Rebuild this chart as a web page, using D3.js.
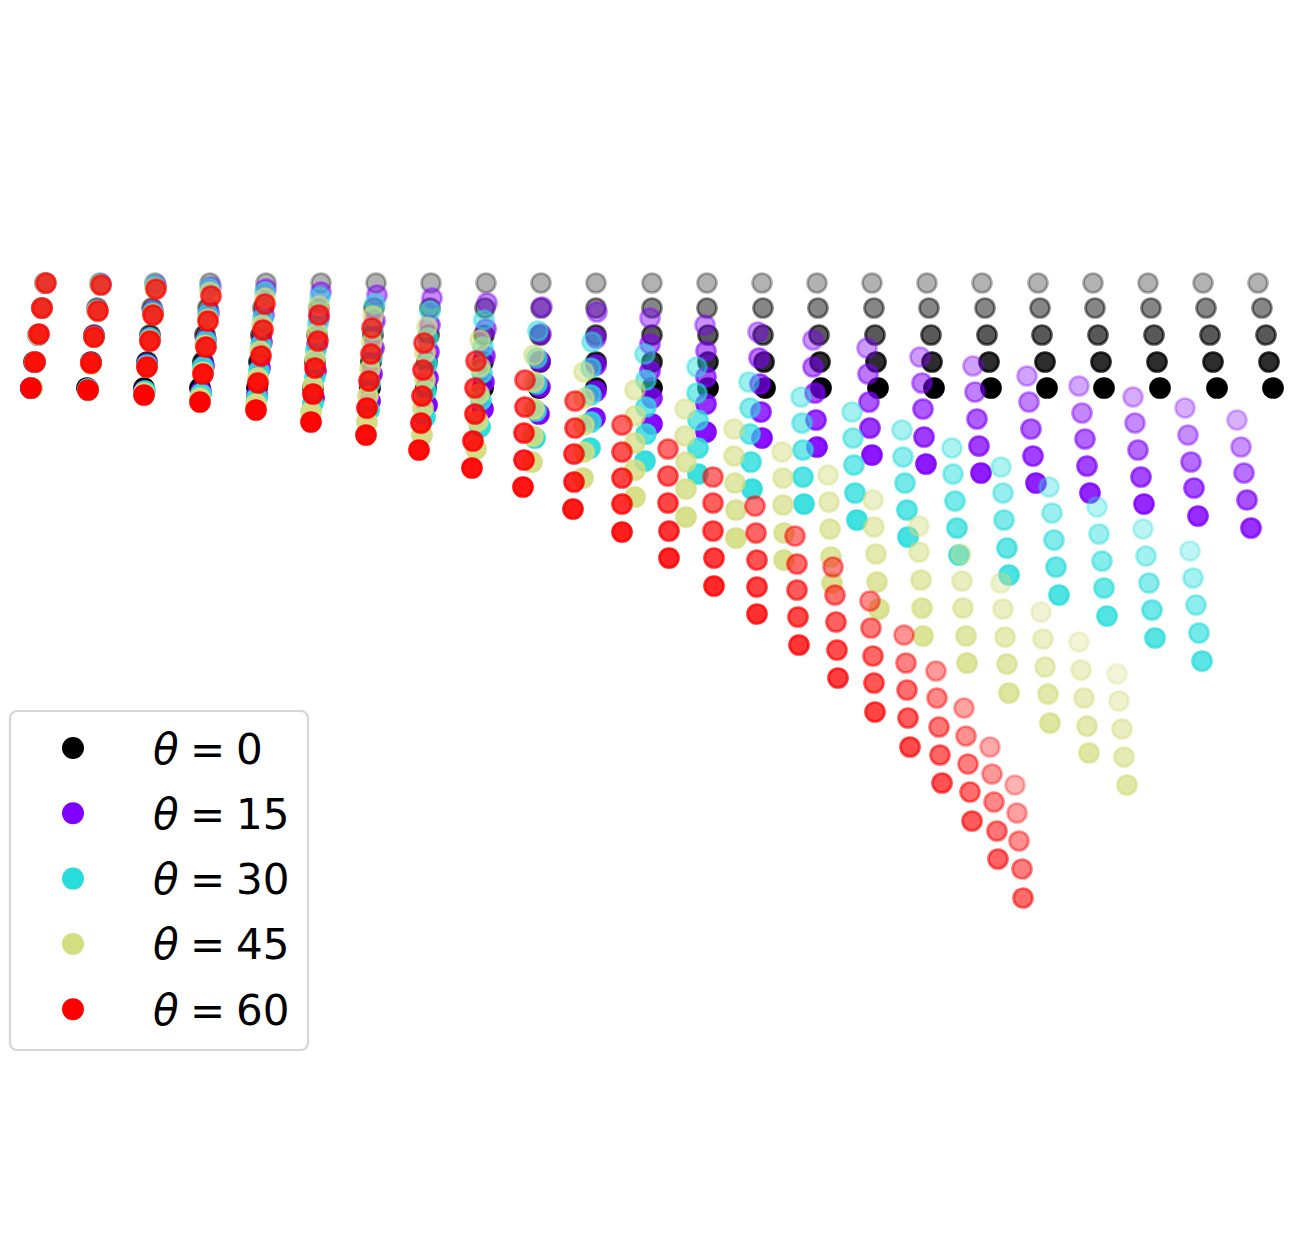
<!DOCTYPE html>
<html>
<head>
<meta charset="utf-8">
<script src="https://cdn.jsdelivr.net/npm/d3@7"></script>
<style>
  body { margin: 0; background: #fff; }
  text { font-family: "DejaVu Sans", sans-serif; }
</style>
</head>
<body>
<div id="viz"></div>
<script>
// Angles of the five series
const thetas = [0, 15, 30, 45, 60];

// Each array: 23 columns along the beam, each column = 5 points from back row to front row
// (projected x, projected drop)
const xTheta0 = [
  [0.0, -0.3, -0.7, -1.1, -1.4], [5.5, 5.2, 4.9, 4.6, 4.2], [11.0, 10.7, 10.5, 10.2, 9.9],
  [16.5, 16.3, 16.0, 15.8, 15.5], [22.1, 21.8, 21.6, 21.4, 21.2], [27.6, 27.4, 27.2, 27.0, 26.8],
  [33.1, 32.9, 32.8, 32.6, 32.5], [38.6, 38.5, 38.4, 38.2, 38.1], [44.1, 44.0, 43.9, 43.8, 43.8],
  [49.6, 49.6, 49.5, 49.5, 49.4], [55.1, 55.1, 55.1, 55.1, 55.1], [60.7, 60.7, 60.7, 60.7, 60.7],
  [66.2, 66.2, 66.3, 66.3, 66.3], [71.7, 71.8, 71.8, 71.9, 72.0], [77.2, 77.3, 77.4, 77.5, 77.6],
  [82.7, 82.9, 83.0, 83.1, 83.3], [88.2, 88.4, 88.6, 88.7, 88.9], [93.7, 94.0, 94.2, 94.4, 94.6],
  [99.3, 99.5, 99.7, 100.0, 100.2], [104.8, 105.0, 105.3, 105.6, 105.9], [110.3, 110.6, 110.9, 111.2, 111.5],
  [115.8, 116.1, 116.5, 116.8, 117.2], [121.3, 121.7, 122.1, 122.4, 122.8]
];
const yTheta0 = [
  [0.0, 2.5, 5.2, 7.9, 10.5], [0.0, 2.5, 5.2, 7.9, 10.5], [0.0, 2.5, 5.2, 7.9, 10.5],
  [0.0, 2.5, 5.2, 7.9, 10.5], [0.0, 2.5, 5.2, 7.9, 10.5], [0.0, 2.5, 5.2, 7.9, 10.5],
  [0.0, 2.5, 5.2, 7.9, 10.5], [0.0, 2.5, 5.2, 7.9, 10.5], [0.0, 2.5, 5.2, 7.9, 10.5],
  [0.0, 2.5, 5.2, 7.9, 10.5], [0.0, 2.5, 5.2, 7.9, 10.5], [0.0, 2.5, 5.2, 7.9, 10.5],
  [0.0, 2.5, 5.2, 7.9, 10.5], [0.0, 2.5, 5.2, 7.9, 10.5], [0.0, 2.5, 5.2, 7.9, 10.5],
  [0.0, 2.5, 5.2, 7.9, 10.5], [0.0, 2.5, 5.2, 7.9, 10.5], [0.0, 2.5, 5.2, 7.9, 10.5],
  [0.0, 2.5, 5.2, 7.9, 10.5], [0.0, 2.5, 5.2, 7.9, 10.5], [0.0, 2.5, 5.2, 7.9, 10.5],
  [0.0, 2.5, 5.2, 7.9, 10.5], [0.0, 2.5, 5.2, 7.9, 10.5]
];

const xTheta15 = [
  [0.0, -0.3, -0.7, -1.0, -1.4], [5.6, 5.2, 4.9, 4.6, 4.3], [11.1, 10.8, 10.5, 10.2, 9.9],
  [16.6, 16.4, 16.1, 15.9, 15.6], [22.1, 21.9, 21.7, 21.5, 21.2], [27.6, 27.4, 27.2, 27.1, 26.9],
  [33.2, 33.0, 32.9, 32.7, 32.5], [38.7, 38.5, 38.4, 38.3, 38.2], [44.2, 44.1, 44.0, 43.9, 43.8],
  [49.7, 49.6, 49.5, 49.5, 49.4], [55.2, 55.1, 55.1, 55.1, 55.0], [60.5, 60.5, 60.5, 60.7, 60.7],
  [66.0, 66.1, 66.1, 66.1, 66.1], [71.3, 71.4, 71.5, 71.6, 71.7], [76.8, 76.8, 77.0, 77.1, 77.2],
  [82.2, 82.3, 82.4, 82.5, 82.7], [87.5, 87.7, 87.8, 87.9, 88.1], [92.8, 93.0, 93.2, 93.4, 93.6],
  [98.2, 98.4, 98.6, 98.8, 99.1], [103.4, 103.7, 104.0, 104.2, 104.5], [108.8, 109.0, 109.3, 109.6, 109.9],
  [114.0, 114.3, 114.6, 114.9, 115.3], [119.2, 119.6, 119.9, 120.2, 120.6]
];
const yTheta15 = [
  [0.0, 2.5, 5.2, 7.9, 10.5], [0.1, 2.7, 5.3, 8.0, 10.6], [0.2, 2.8, 5.5, 8.1, 10.8],
  [0.4, 3.0, 5.7, 8.3, 10.9], [0.6, 3.2, 5.9, 8.5, 11.2], [0.9, 3.5, 6.2, 8.8, 11.5],
  [1.2, 3.8, 6.5, 9.1, 11.8], [1.5, 4.2, 6.9, 9.5, 12.2], [2.0, 4.6, 7.3, 9.9, 12.6],
  [2.4, 5.1, 7.8, 10.4, 13.1], [2.9, 5.5, 8.2, 10.8, 13.5], [3.5, 6.1, 8.8, 11.5, 14.1],
  [4.2, 6.8, 9.4, 12.1, 14.9], [4.9, 7.5, 10.1, 12.9, 15.5], [5.7, 8.4, 11.0, 13.7, 16.4],
  [6.5, 9.1, 11.9, 14.5, 17.2], [7.4, 10.0, 12.6, 15.4, 18.1], [8.3, 10.9, 13.6, 16.3, 19.0],
  [9.3, 11.9, 14.6, 17.3, 20.0], [10.3, 13.0, 15.6, 18.3, 21.0], [11.4, 14.0, 16.7, 19.4, 22.1],
  [12.5, 15.2, 17.9, 20.5, 23.3], [13.7, 16.4, 19.0, 21.7, 24.5]
];

const xTheta30 = [
  [0.0, -0.3, -0.7, -1.0, -1.3], [5.5, 5.2, 4.9, 4.6, 4.3], [11.0, 10.8, 10.5, 10.2, 10.0],
  [16.5, 16.3, 16.1, 15.8, 15.6], [22.0, 21.8, 21.6, 21.4, 21.2], [27.5, 27.3, 27.1, 27.0, 26.8],
  [33.0, 32.8, 32.7, 32.5, 32.4], [38.5, 38.3, 38.2, 38.1, 38.0], [43.9, 43.8, 43.7, 43.6, 43.5],
  [49.3, 49.2, 49.2, 49.1, 49.0], [54.7, 54.6, 54.6, 54.6, 54.5], [60.0, 60.1, 60.1, 60.1, 60.0],
  [65.2, 65.2, 65.3, 65.3, 65.3], [70.4, 70.5, 70.5, 70.6, 70.7], [75.6, 75.7, 75.8, 75.8, 75.9],
  [80.7, 80.8, 80.9, 81.0, 81.2], [85.7, 85.8, 86.0, 86.2, 86.3], [90.7, 90.8, 91.0, 91.2, 91.4],
  [95.6, 95.8, 95.9, 96.2, 96.4], [100.4, 100.7, 100.9, 101.1, 101.4], [105.2, 105.4, 105.7, 105.9, 106.2],
  [109.8, 110.1, 110.4, 110.7, 111.0], [114.5, 114.8, 115.1, 115.4, 115.7]
];
const yTheta30 = [
  [0.0, 2.5, 5.2, 7.9, 10.5], [0.1, 2.7, 5.4, 8.0, 10.6], [0.2, 2.9, 5.5, 8.2, 10.8],
  [0.5, 3.1, 5.8, 8.4, 11.1], [0.9, 3.5, 6.2, 8.8, 11.5], [1.4, 4.1, 6.7, 9.4, 12.0],
  [2.1, 4.7, 7.4, 10.0, 12.7], [2.8, 5.5, 8.1, 10.8, 13.4], [3.7, 6.4, 9.0, 11.7, 14.4],
  [4.8, 7.5, 10.1, 12.8, 15.5], [5.9, 8.5, 11.2, 13.9, 16.5], [7.1, 9.7, 12.4, 15.1, 17.8],
  [8.4, 11.0, 13.7, 16.5, 19.1], [9.9, 12.5, 15.1, 17.9, 20.6], [11.4, 14.0, 16.7, 19.4, 22.1],
  [12.9, 15.5, 18.2, 21.0, 23.7], [14.7, 17.4, 20.0, 22.7, 25.4], [16.5, 19.1, 21.8, 24.5, 27.2],
  [18.4, 21.0, 23.7, 26.5, 29.2], [20.4, 23.0, 25.7, 28.4, 31.2], [22.4, 25.1, 27.8, 30.5, 33.3],
  [24.6, 27.3, 30.0, 32.7, 35.5], [26.8, 29.5, 32.2, 35.0, 37.8]
];

const xTheta45 = [
  [0.0, -0.3, -0.7, -1.0, -1.3], [5.5, 5.2, 4.9, 4.6, 4.3], [11.0, 10.8, 10.5, 10.2, 9.9],
  [16.5, 16.3, 16.0, 15.8, 15.5], [22.0, 21.7, 21.5, 21.3, 21.1], [27.4, 27.2, 27.0, 26.8, 26.6],
  [32.8, 32.7, 32.5, 32.3, 32.2], [38.2, 38.0, 38.0, 37.8, 37.7], [43.5, 43.5, 43.4, 43.3, 43.1],
  [48.9, 48.9, 48.9, 48.8, 48.7], [53.9, 53.9, 53.9, 53.9, 53.8], [59.0, 59.0, 59.0, 59.0, 59.0],
  [64.0, 64.0, 64.1, 64.1, 64.1], [68.9, 68.9, 69.0, 69.1, 69.1], [73.7, 73.8, 73.8, 73.9, 73.9],
  [78.3, 78.4, 78.5, 78.6, 78.7], [82.8, 82.9, 83.1, 83.2, 83.4], [87.4, 87.4, 87.6, 87.7, 87.8],
  [91.6, 91.7, 91.8, 92.1, 92.2], [95.6, 95.8, 96.0, 96.2, 96.4], [99.6, 99.8, 100.0, 100.3, 100.5],
  [103.4, 103.6, 103.9, 104.2, 104.4], [107.2, 107.4, 107.7, 107.9, 108.2]
];
const yTheta45 = [
  [0.0, 2.5, 5.2, 7.9, 10.5], [0.2, 2.8, 5.4, 8.1, 10.7], [0.5, 3.1, 5.7, 8.4, 11.0],
  [0.9, 3.6, 6.2, 8.9, 11.5], [1.5, 4.2, 6.8, 9.5, 12.1], [2.3, 5.0, 7.6, 10.3, 12.9],
  [3.3, 5.9, 8.6, 11.3, 13.9], [4.4, 7.0, 9.7, 12.5, 15.2], [5.7, 8.4, 11.1, 13.8, 16.6],
  [7.2, 9.9, 12.6, 15.3, 17.9], [8.9, 11.5, 14.2, 16.9, 19.5], [10.7, 13.3, 16.0, 18.7, 21.4],
  [12.6, 15.3, 17.9, 20.6, 23.4], [14.6, 17.3, 20.0, 22.7, 25.5], [16.9, 19.5, 22.2, 25.0, 27.7],
  [19.2, 21.9, 24.6, 27.4, 30.0], [21.7, 24.4, 27.1, 29.9, 32.6], [24.3, 26.9, 29.7, 32.5, 35.3],
  [27.1, 29.8, 32.5, 35.3, 38.0], [30.0, 32.6, 35.4, 38.1, 41.0], [32.9, 35.6, 38.4, 41.1, 44.0],
  [35.9, 38.7, 41.5, 44.3, 47.0], [39.1, 41.8, 44.6, 47.4, 50.2]
];

const xTheta60 = [
  [0.1, -0.3, -0.6, -1.0, -1.4], [5.6, 5.3, 4.9, 4.6, 4.3], [11.1, 10.8, 10.5, 10.2, 9.9],
  [16.6, 16.3, 16.1, 15.8, 15.5], [22.0, 21.8, 21.6, 21.3, 21.1], [27.4, 27.3, 27.0, 26.8, 26.6],
  [32.7, 32.6, 32.4, 32.2, 32.1], [37.9, 37.8, 37.7, 37.6, 37.4], [43.1, 43.0, 43.0, 42.8, 42.7],
  [48.0, 48.0, 47.9, 47.9, 47.8], [53.0, 53.0, 52.9, 52.9, 52.8], [57.7, 57.7, 57.7, 57.7, 57.7],
  [62.3, 62.3, 62.3, 62.4, 62.4], [66.8, 66.8, 66.8, 66.9, 66.9], [71.0, 71.1, 71.2, 71.2, 71.2],
  [75.0, 75.2, 75.2, 75.3, 75.4], [78.8, 79.0, 79.1, 79.2, 79.3], [82.5, 82.6, 82.8, 82.9, 83.0],
  [85.9, 86.1, 86.2, 86.3, 86.5], [89.1, 89.2, 89.4, 89.5, 89.7], [91.9, 92.1, 92.3, 92.5, 92.7],
  [94.5, 94.7, 94.9, 95.2, 95.3], [97.0, 97.2, 97.4, 97.7, 97.8]
];
const yTheta60 = [
  [0.0, 2.5, 5.1, 7.9, 10.5], [0.2, 2.8, 5.4, 8.0, 10.7], [0.6, 3.2, 5.8, 8.4, 11.2],
  [1.3, 3.8, 6.4, 9.1, 11.9], [2.1, 4.7, 7.3, 10.0, 12.7], [3.2, 5.8, 8.5, 11.1, 13.9],
  [4.5, 7.1, 9.8, 12.5, 15.2], [6.0, 8.7, 11.3, 14.0, 16.7], [7.8, 10.5, 13.1, 15.8, 18.5],
  [9.7, 12.4, 15.0, 17.7, 20.4], [11.8, 14.5, 17.1, 19.9, 22.6], [14.2, 16.9, 19.5, 22.1, 24.9],
  [16.6, 19.3, 22.0, 24.8, 27.5], [19.4, 22.0, 24.8, 27.5, 30.3], [22.3, 25.0, 27.7, 30.4, 33.1],
  [25.3, 28.1, 30.7, 33.4, 36.2], [28.4, 31.2, 33.9, 36.7, 39.5], [31.8, 34.5, 37.3, 40.0, 42.9],
  [35.2, 38.0, 40.7, 43.5, 46.4], [38.8, 41.5, 44.4, 47.2, 50.0], [42.5, 45.3, 48.1, 50.9, 53.8],
  [46.4, 49.1, 51.9, 54.8, 57.6], [50.2, 53.0, 55.8, 58.6, 61.5]
];

const seriesX = [xTheta0, xTheta15, xTheta30, xTheta45, xTheta60];
const seriesY = [yTheta0, yTheta15, yTheta30, yTheta45, yTheta60];

// styling
const colors = ["#000000", "#8000ff", "#2adddd", "#d4dd80", "#ff0000"];
const fadeAlong = [0, 0.27, 0.34, 0.44, 0.6];  // share of depth fade that comes from the drop along the beam

const width = 1300, height = 1241;

const svg = d3.select("#viz")
  .append("svg")
  .attr("width", width)
  .attr("height", height);

svg.append("rect")
  .attr("width", width)
  .attr("height", height)
  .attr("fill", "#fff");

const x = d3.scaleLinear().domain([0, 125]).range([45, 1295]);
const y = d3.scaleLinear().domain([0, 62]).range([283, 903]);

// build point list, depth-shaded like a 3d scatter
thetas.forEach((t, s) => {
  const xs = seriesX[s], ys = seriesY[s];
  const last = ys.length - 1;
  const dropMax = ys[last][0] - ys[0][0];
  const fc = fadeAlong[s];
  const pts = [];
  xs.forEach((col, i) => {
    col.forEach((xv, j) => {
      const along = dropMax > 0 ? (ys[i][0] - ys[0][0]) / dropMax : 0;
      const depth = (1 - fc) * (4 - j) / 4 + fc * along;
      pts.push({ x: xv, y: ys[i][j], a: 1 - 0.7 * depth });
    });
  });
  // far points first
  pts.sort((p, q) => p.a - q.a);

  svg.append("g")
    .attr("class", "theta-" + t)
    .selectAll("circle")
    .data(pts)
    .enter().append("circle")
    .attr("cx", d => x(d.x))
    .attr("cy", d => y(d.y))
    .attr("r", 9.5)
    .attr("fill", colors[s])
    .attr("fill-opacity", d => d.a)
    .attr("stroke", colors[s])
    .attr("stroke-opacity", d => d.a)
    .attr("stroke-width", 2.7);
});

// Legend
const legend = svg.append("g").attr("transform", "translate(10,711)");

legend.append("rect")
  .attr("width", 298)
  .attr("height", 339)
  .attr("rx", 7)
  .attr("ry", 7)
  .attr("fill", "#fff")
  .attr("fill-opacity", 0.8)
  .attr("stroke", "#d6d6d6")
  .attr("stroke-width", 2.2);

const item = legend.selectAll("g.item")
  .data(thetas)
  .enter().append("g")
  .attr("class", "item")
  .attr("transform", (d, k) => `translate(0,${37 + k * 65.3})`);

item.append("circle")
  .attr("cx", 63)
  .attr("cy", 0)
  .attr("r", 11)
  .attr("fill", (d, k) => colors[k]);

const label = item.append("text")
  .attr("y", 15.5)
  .attr("font-size", 42)
  .attr("fill", "#000");

label.append("tspan")
  .attr("x", 143)
  .attr("font-style", "italic")
  .text("θ");
label.append("tspan")
  .attr("x", 180)
  .text("=");
label.append("tspan")
  .attr("x", 226)
  .text(d => d);
</script>
</body>
</html>
